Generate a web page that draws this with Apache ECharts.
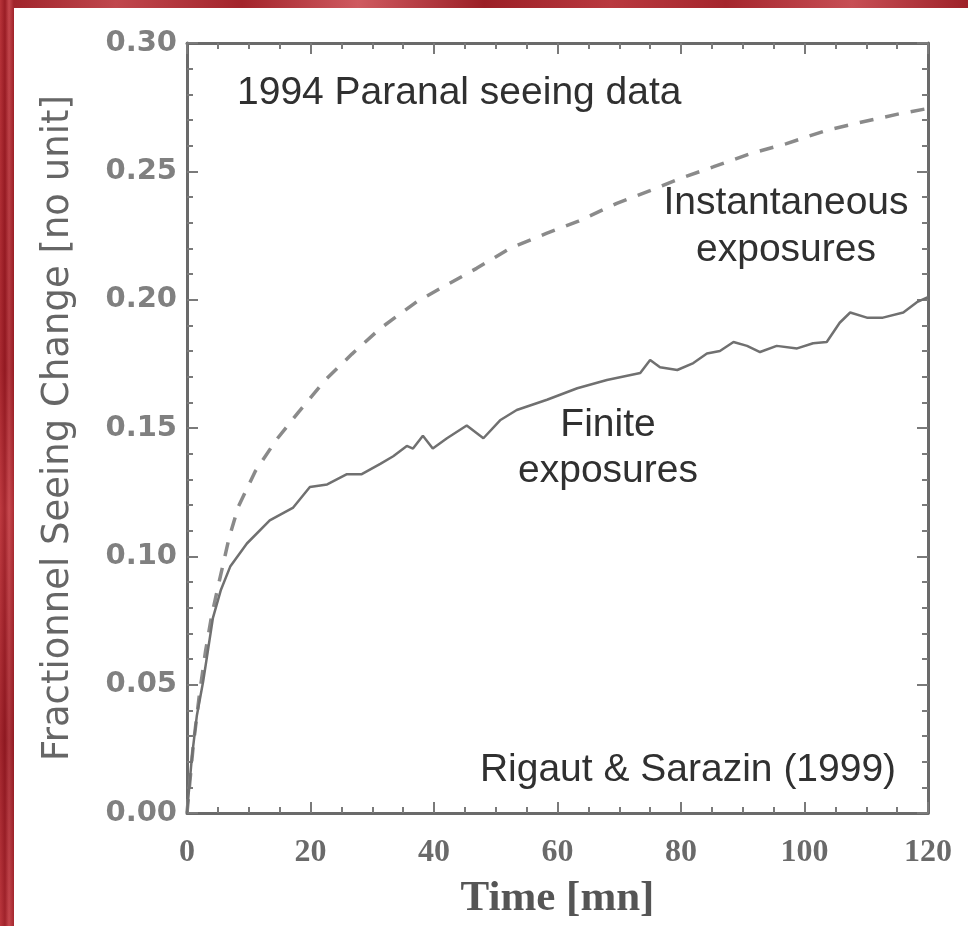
<!DOCTYPE html>
<html>
<head>
<meta charset="utf-8">
<script src="https://cdn.jsdelivr.net/npm/echarts@6/dist/echarts.min.js"></script>
<style>
  html, body {
    margin: 0;
    padding: 0;
    width: 968px;
    height: 926px;
    overflow: hidden;
    background: #a9262d;
    background-image:
      linear-gradient(180deg, rgba(120,10,20,0.0) 0%, rgba(120,10,20,0.25) 40%, rgba(220,90,95,0.18) 55%, rgba(110,10,20,0.3) 80%, rgba(200,70,80,0.15) 100%),
      linear-gradient(90deg, #b8343a 0px, #9a1d25 5px, #c4474d 9px, #a02229 14px),
      linear-gradient(90deg, #9c2027 0%, #c0474d 12%, #a3242b 25%, #cf5a60 37%, #9b1f26 50%, #b9393f 63%, #a5262d 75%, #c74f55 88%, #9e2128 100%);
    background-size: 100% 100%, 14px 100%, 100% 8px;
    background-repeat: no-repeat;
  }
  #paper {
    position: absolute;
    left: 14px;
    top: 8px;
    right: 0;
    bottom: 0;
    background: #fff;
  }
  #chart-wrap {
    position: absolute;
    left: 0;
    top: 0;
    width: 968px;
    height: 926px;
  }
</style>
</head>
<body>
<div id="paper"></div>
<div id="chart-wrap"></div>
<script>
  // finite exposures (solid line), time in minutes
  const finiteTime = [0, 0.8, 1.6, 2.6, 3.4, 4.2, 5.5, 7, 9.7, 13.4, 17.2, 19.9, 22.7, 25.9, 28.3, 31.3, 33.4, 35.6, 36.6, 38.2, 39.8, 42.1, 45.3, 48, 50.7, 53.4, 58.3, 63.2, 68, 73.4, 75, 76.6, 79.4, 82, 84.2, 86.3, 88.5, 90.7, 92.8, 95.5, 98.8, 101.4, 103.6, 105.7, 107.4, 110.1, 112.7, 116, 118.2, 120]
  const finiteValue = [0, 0.022, 0.038, 0.051, 0.0635, 0.076, 0.087, 0.096, 0.105, 0.114, 0.119, 0.127, 0.128, 0.132, 0.132, 0.136, 0.139, 0.143, 0.142, 0.147, 0.142, 0.146, 0.151, 0.146, 0.153, 0.157, 0.161, 0.1655, 0.1687, 0.1714, 0.1765, 0.1737, 0.1726, 0.1753, 0.179, 0.180, 0.1835, 0.182, 0.1796, 0.182, 0.181, 0.183, 0.1835, 0.191, 0.195, 0.193, 0.193, 0.195, 0.199, 0.201]

  // instantaneous exposures (dashed line)
  const instTime = [0, 1, 2, 3, 4, 5.45, 6.8, 8.3, 11.1, 14.5, 18.1, 22.4, 26.7, 31.3, 37.2, 41.5, 46.9, 52.3, 58.2, 63.4, 69.6, 75, 79.8, 85.2, 91.2, 97.1, 103.6, 109.5, 115.5, 120]
  const instValue = [0, 0.026, 0.046, 0.063, 0.077, 0.0927, 0.107, 0.1193, 0.1333, 0.1455, 0.1563, 0.1687, 0.1788, 0.1888, 0.1992, 0.205, 0.2122, 0.22, 0.2258, 0.2306, 0.2375, 0.2425, 0.2472, 0.2517, 0.2569, 0.2608, 0.266, 0.2693, 0.2725, 0.2745]

  const xTicks = { min: 0, max: 120, step: 20 }
  const yTicks = { min: 0, max: 0.30, step: 0.05 }

  const toPairs = (xs, ys) => xs.map((x, i) => [x, ys[i]])

  const axisGray = '#6a6a6a'
  const tickStyle = { color: '#7a7a7a', width: 2 }

  function xAxisBase (pos) {
    return {
      type: 'value',
      position: pos,
      min: xTicks.min,
      max: xTicks.max,
      interval: xTicks.step,
      axisLine: { show: true, onZero: false, lineStyle: { color: axisGray, width: 3 } },
      axisTick: { show: true, inside: true, length: 11, lineStyle: tickStyle },
      minorTick: { show: true, splitNumber: 4, length: 6, lineStyle: tickStyle },
      splitLine: { show: false },
      axisLabel: { show: false }
    }
  }
  function yAxisBase (pos) {
    return {
      type: 'value',
      position: pos,
      min: yTicks.min,
      max: yTicks.max,
      interval: yTicks.step,
      axisLine: { show: true, onZero: false, lineStyle: { color: axisGray, width: 3 } },
      axisTick: { show: true, inside: true, length: 11, lineStyle: tickStyle },
      minorTick: { show: true, splitNumber: 5, length: 6, lineStyle: tickStyle },
      splitLine: { show: false },
      axisLabel: { show: false }
    }
  }

  const bottomAxis = xAxisBase('bottom')
  bottomAxis.axisLabel = {
    show: true,
    margin: 24,
    color: '#6a6a6a',
    fontFamily: 'Liberation Serif',
    fontWeight: 'bold',
    fontSize: 32
  }
  bottomAxis.name = 'Time [mn]'
  bottomAxis.nameLocation = 'middle'
  bottomAxis.nameGap = 64
  bottomAxis.nameTextStyle = {
    color: '#555',
    fontFamily: 'Liberation Serif',
    fontWeight: 'bold',
    fontSize: 43
  }

  const leftAxis = yAxisBase('left')
  leftAxis.axisLabel = {
    show: true,
    margin: 10,
    color: '#808080',
    fontFamily: 'DejaVu Sans',
    fontWeight: 'bold',
    fontSize: 29,
    formatter: (v) => v.toFixed(2)
  }
  leftAxis.name = 'Fractionnel Seeing Change [no unit]'
  leftAxis.nameLocation = 'middle'
  leftAxis.nameGap = 110
  leftAxis.nameTextStyle = {
    color: '#666',
    fontFamily: 'DejaVu Sans',
    fontSize: 37
  }

  const textFont = '39px "Liberation Sans", Arial, sans-serif'
  const textColor = '#303030'

  const mychart = echarts.init(document.querySelector('#chart-wrap'))
  const options = {
    animation: false,
    backgroundColor: 'transparent',
    grid: {
      left: 187,
      top: 43,
      width: 741,
      height: 770,
      show: false
    },
    xAxis: [bottomAxis, xAxisBase('top')],
    yAxis: [leftAxis, yAxisBase('right')],
    graphic: [
      { type: 'text', x: 237, y: 93, style: { text: '1994 Paranal seeing data', font: textFont, fill: textColor, textAlign: 'left', textVerticalAlign: 'middle' } },
      { type: 'text', x: 786, y: 227, style: { text: 'Instantaneous\nexposures', font: textFont, lineHeight: 47, fill: textColor, textAlign: 'center', textVerticalAlign: 'middle' } },
      { type: 'text', x: 608, y: 448, style: { text: 'Finite\nexposures', font: textFont, lineHeight: 46, fill: textColor, textAlign: 'center', textVerticalAlign: 'middle' } },
      { type: 'text', x: 688, y: 770, style: { text: 'Rigaut & Sarazin (1999)', font: textFont, fill: textColor, textAlign: 'center', textVerticalAlign: 'middle' } }
    ],
    series: [
      {
        name: 'Instantaneous exposures',
        type: 'line',
        xAxisIndex: 0,
        yAxisIndex: 0,
        showSymbol: false,
        data: toPairs(instTime, instValue),
        lineStyle: { color: '#8a8a8a', width: 3.5, type: [14, 12] }
      },
      {
        name: 'Finite exposures',
        type: 'line',
        xAxisIndex: 0,
        yAxisIndex: 0,
        showSymbol: false,
        data: toPairs(finiteTime, finiteValue),
        lineStyle: { color: '#707070', width: 2.5 }
      }
    ]
  }
  mychart.setOption(options)
</script>
</body>
</html>
